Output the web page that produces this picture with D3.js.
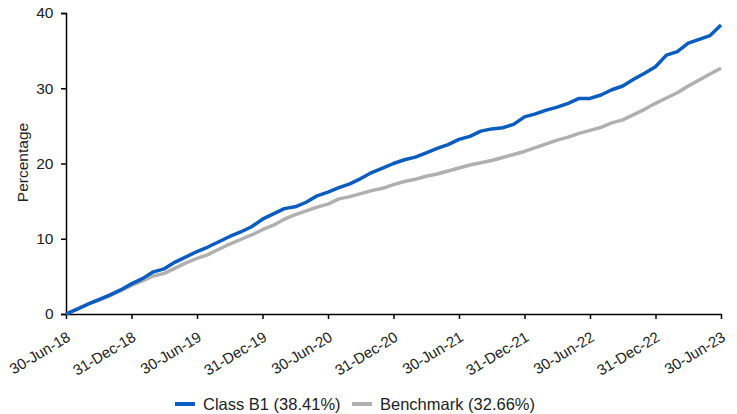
<!DOCTYPE html>
<html><head><meta charset="utf-8">
<script src="https://cdn.jsdelivr.net/npm/d3@7"></script>
<style>
html,body{margin:0;padding:0;background:#fff;}
svg{display:block;font-family:"Liberation Sans",Arial,sans-serif;}
</style></head>
<body><svg id="chart" width="737" height="414"></svg>
<script>
const tickLabels = ["30-Jun-18","31-Dec-18","30-Jun-19","31-Dec-19","30-Jun-20","31-Dec-20","30-Jun-21","31-Dec-21","30-Jun-22","31-Dec-22","30-Jun-23"];
const classB1 = [0,0.6,1.3,1.9,2.5,3.2,4.0,4.7,5.6,6.0,6.9,7.6,8.3,8.9,9.6,10.3,10.9,11.6,12.6,13.3,14.0,14.25,14.85,15.7,16.2,16.8,17.3,18.0,18.8,19.4,20.0,20.5,20.85,21.4,22.0,22.5,23.2,23.6,24.3,24.6,24.75,25.2,26.2,26.6,27.1,27.5,28.0,28.65,28.65,29.1,29.8,30.3,31.2,32.0,32.86,34.4,34.86,36.0,36.5,37.0,38.41];
const benchmark = [0,0.7,1.3,1.8,2.4,3.1,3.8,4.4,5.05,5.4,6.1,6.8,7.4,7.9,8.6,9.3,9.9,10.5,11.2,11.8,12.6,13.2,13.7,14.2,14.6,15.3,15.6,16.0,16.4,16.7,17.2,17.6,17.9,18.3,18.6,19.0,19.4,19.8,20.1,20.4,20.8,21.2,21.6,22.1,22.6,23.1,23.5,24.0,24.4,24.8,25.4,25.8,26.5,27.2,28.0,28.7,29.4,30.3,31.1,31.9,32.66];
const yTicks = [0,10,20,30,40];
const seriesNames = ["Class B1 (38.41%)","Benchmark (32.66%)"];
const colors = ["#0a5cbe","#b0b0b0"];

const svg = d3.select("#chart");
const x = d3.scaleLinear().domain([0, classB1.length-1]).range([66, 721]);
const y = d3.scaleLinear().domain([0,40]).range([314, 13]);

// y axis
const yAxis = svg.append("g").attr("transform","translate(66,0)")
  .call(d3.axisLeft(y).tickValues(yTicks).tickSize(5).tickPadding(7.5));
yAxis.select(".domain").attr("stroke","#000").attr("stroke-width",1.5);
yAxis.selectAll(".tick line").attr("stroke","#000").attr("stroke-width",1.5);
yAxis.selectAll("text").attr("font-size","15.5px").attr("fill","#222");

// x axis
const xTickIdx = tickLabels.map((d,i)=>i*6);
const xAxis = svg.append("g").attr("transform","translate(0,314)")
  .call(d3.axisBottom(x).tickValues(xTickIdx).tickSize(5).tickSizeOuter(0).tickFormat((d,i)=>tickLabels[i]));
xAxis.select(".domain").attr("stroke","#000").attr("stroke-width",1.5);
xAxis.selectAll(".tick line").attr("stroke","#000").attr("stroke-width",1.5);
xAxis.selectAll("text")
  .attr("font-size","15px").attr("fill","#222")
  .attr("text-anchor","end")
  .attr("dy","0")
  .attr("y",0)
  .attr("transform","translate(5,26) rotate(-31)");

// axis title
svg.append("text").attr("transform","translate(28,162.5) rotate(-90)")
  .attr("text-anchor","middle").attr("font-size","15.5px").attr("fill","#222").text("Percentage");

// lines
const line = d3.line().x((d,i)=>x(i)).y(d=>y(d));
[benchmark, classB1].forEach((s,k)=>{
  svg.append("path").datum(s).attr("fill","none")
    .attr("stroke", k===0 ? colors[1] : colors[0])
    .attr("stroke-width",3.5).attr("stroke-linejoin","round").attr("d",line);
});

// legend
const lg = svg.append("g").attr("transform","translate(175,404)");
const items = [{x:0,c:colors[0],t:seriesNames[0]},{x:177,c:colors[1],t:seriesNames[1]}];
items.forEach(it=>{
  lg.append("line").attr("x1",it.x).attr("x2",it.x+20).attr("y1",0).attr("y2",0)
    .attr("stroke",it.c).attr("stroke-width",4);
  lg.append("text").attr("x",it.x+28).attr("y",0).attr("dy","0.36em")
    .attr("font-size","16.5px").attr("fill","#222").text(it.t);
});
</script></body></html>
